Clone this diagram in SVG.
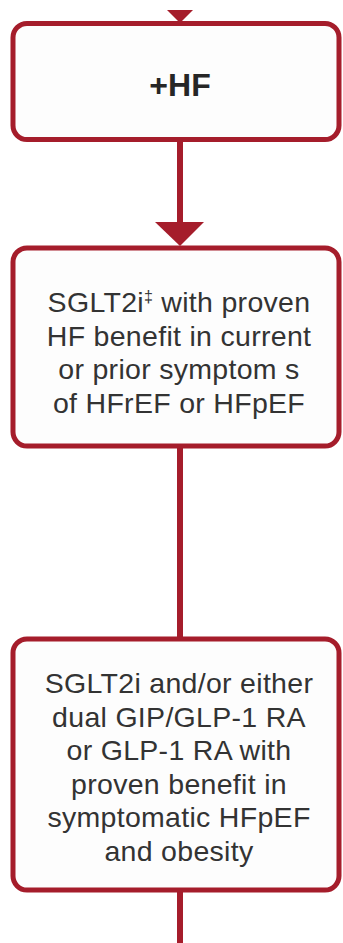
<svg xmlns="http://www.w3.org/2000/svg" width="343" height="943" viewBox="0 0 343 943">
<style>
.box{fill:#fdfdfd;stroke:#a51d2b;stroke-width:5}
.ln{stroke:#a51d2b;stroke-width:6;fill:none}
.ah{fill:#a51d2b}
.t{font-family:"Liberation Sans",Arial,sans-serif;font-size:28.5px;letter-spacing:0.3px;fill:#333;text-anchor:middle}
.h{font-family:"Liberation Sans",Arial,sans-serif;font-size:32px;font-weight:bold;fill:#262626;text-anchor:middle}
</style>
<rect width="343" height="943" fill="#ffffff"/>
<g id="connectors">
<polygon class="ah" points="167,10 193,10 180,23"/>
<line class="ln" x1="180" y1="140" x2="180" y2="224"/>
<polygon class="ah" points="155,222 204,222 180,246"/>
<line class="ln" x1="180" y1="446" x2="180" y2="639"/>
<line class="ln" x1="180" y1="890" x2="180" y2="943"/>
</g>
<g id="node-hf">
<rect class="box" x="13" y="23.5" width="326" height="116" rx="14"/>
<text class="h" x="180" y="96">+HF</text>
</g>
<g id="node-sglt2i">
<rect class="box" x="13" y="248" width="326" height="198" rx="14"/>
<text class="t" x="179" y="312">SGLT2i<tspan font-size="16" dy="-10">‡</tspan><tspan dy="10"> with proven</tspan></text>
<text class="t" x="179" y="345.5">HF benefit in current</text>
<text class="t" x="179" y="379">or prior symptom s</text>
<text class="t" x="179" y="412.5">of HFrEF or HFpEF</text>
</g>
<g id="node-glp1">
<rect class="box" x="13" y="639" width="326" height="251" rx="14"/>
<text class="t" x="179" y="693">SGLT2i and/or either</text>
<text class="t" x="179" y="726.5">dual GIP/GLP-1 RA</text>
<text class="t" x="179" y="760">or GLP-1 RA with</text>
<text class="t" x="179" y="793.5">proven benefit in</text>
<text class="t" x="179" y="827">symptomatic HFpEF</text>
<text class="t" x="179" y="860.5">and obesity</text>
</g>
</svg>
